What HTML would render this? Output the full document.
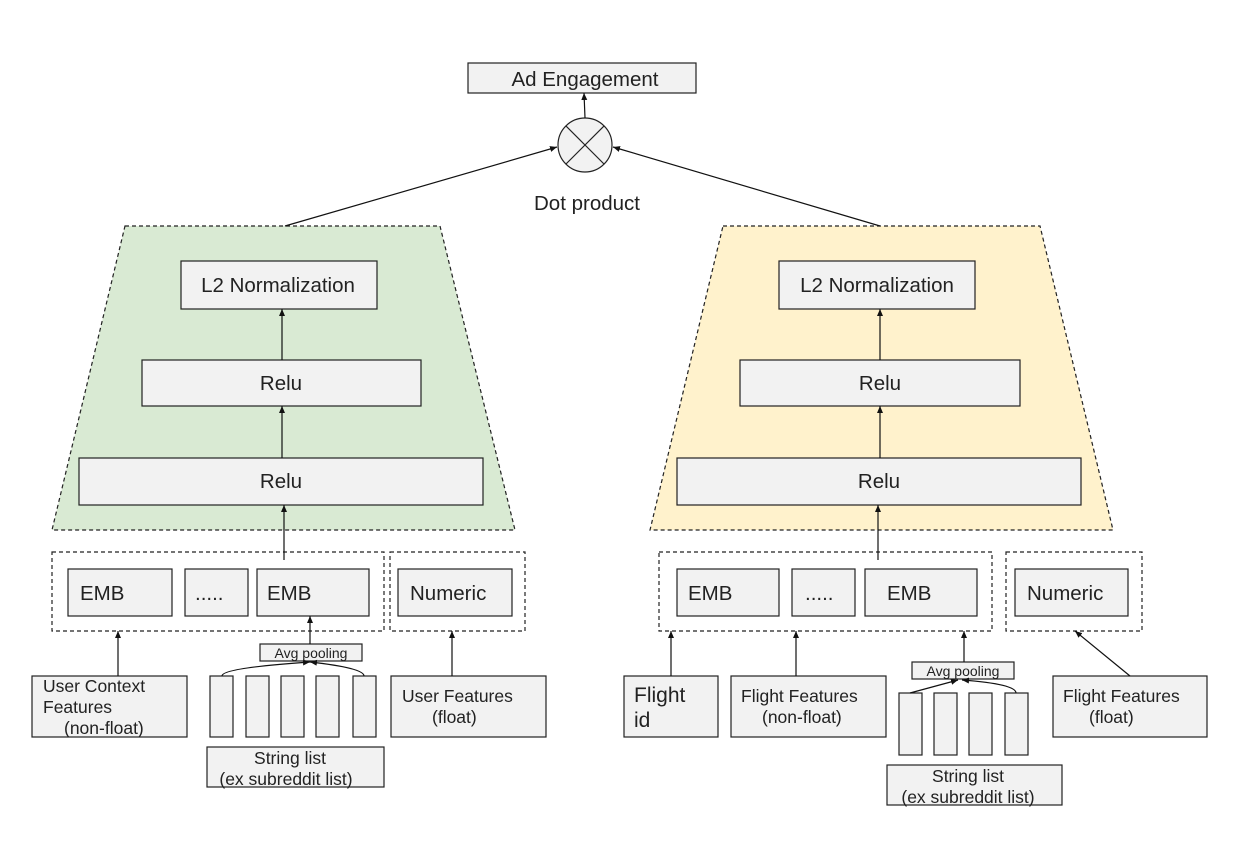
<!DOCTYPE html>
<html><head><style>body{margin:0;background:#fff}svg text{font-family:"Liberation Sans",sans-serif;fill:#222}</style></head>
<body>
<svg width="1238" height="852" viewBox="0 0 1238 852" xmlns="http://www.w3.org/2000/svg">
<defs><marker id="a" markerWidth="8" markerHeight="8" refX="7" refY="4" orient="auto" markerUnits="userSpaceOnUse"><path d="M0,1 L7,4 L0,7 z" fill="#111"/></marker></defs>
<g stroke="#222" stroke-width="1.2" fill="#f2f2f2">
<polygon points="125,226 440,226 515,530 52,530" fill="#d9ead3" stroke-dasharray="4,3"/>
<polygon points="723,226 1040,226 1113,530 650,530" fill="#fff2cc" stroke-dasharray="4,3"/>
<rect x="468" y="63" width="228" height="30"/>
<circle cx="585" cy="145" r="27"/>
<line x1="566" y1="126" x2="604" y2="164"/><line x1="604" y1="126" x2="566" y2="164"/>
<rect x="181" y="261" width="196" height="48"/><rect x="142" y="360" width="279" height="46"/><rect x="79" y="458" width="404" height="47"/>
<rect x="779" y="261" width="196" height="48"/><rect x="740" y="360" width="280" height="46"/><rect x="677" y="458" width="404" height="47"/>
<g fill="none" stroke-dasharray="4,3"><rect x="52" y="552" width="332" height="79"/><rect x="390" y="552" width="135" height="79"/><rect x="659" y="552" width="333" height="79"/><rect x="1006" y="552" width="136" height="79"/></g>
<rect x="68" y="569" width="104" height="47"/><rect x="185" y="569" width="63" height="47"/><rect x="257" y="569" width="112" height="47"/><rect x="398" y="569" width="114" height="47"/>
<rect x="677" y="569" width="102" height="47"/><rect x="792" y="569" width="63" height="47"/><rect x="865" y="569" width="112" height="47"/><rect x="1015" y="569" width="113" height="47"/>
<rect x="260" y="644" width="102" height="17"/><rect x="912" y="662" width="102" height="17"/>
<rect x="32" y="676" width="155" height="61"/><rect x="391" y="676" width="155" height="61"/>
<rect x="210" y="676" width="23" height="61"/><rect x="246" y="676" width="23" height="61"/><rect x="281" y="676" width="23" height="61"/><rect x="316" y="676" width="23" height="61"/><rect x="353" y="676" width="23" height="61"/>
<rect x="207" y="747" width="177" height="40"/>
<rect x="624" y="676" width="94" height="61"/><rect x="731" y="676" width="155" height="61"/><rect x="1053" y="676" width="154" height="61"/>
<rect x="899" y="693" width="23" height="62"/><rect x="934" y="693" width="23" height="62"/><rect x="969" y="693" width="23" height="62"/><rect x="1005" y="693" width="23" height="62"/>
<rect x="887" y="765" width="175" height="40"/>
</g>
<g stroke="#111" stroke-width="1.2" fill="none" marker-end="url(#a)">
<line x1="585" y1="118" x2="584" y2="93"/>
<line x1="285" y1="226" x2="557" y2="147"/><line x1="880" y1="226" x2="613" y2="147"/>
<line x1="282" y1="360" x2="282" y2="309"/><line x1="282" y1="458" x2="282" y2="406"/><line x1="284" y1="560" x2="284" y2="505"/>
<line x1="880" y1="360" x2="880" y2="309"/><line x1="880" y1="458" x2="880" y2="406"/><line x1="878" y1="560" x2="878" y2="505"/>
<line x1="118" y1="676" x2="118" y2="631"/><line x1="452" y1="676" x2="452" y2="631"/><line x1="310" y1="644" x2="310" y2="616"/>
<line x1="671" y1="676" x2="671" y2="631"/><line x1="796" y1="676" x2="796" y2="631"/><line x1="964" y1="662" x2="964" y2="631"/>
<line x1="1130" y1="676" x2="1075" y2="631"/>
<path d="M222,676 Q222,668 310,662"/><path d="M364,676 Q364,668 310,662"/>
<path d="M910,693 L958,680"/><path d="M1016,693 Q1016,684 962,680"/>
</g>
<g font-size="20.5">
<text x="585" y="86" text-anchor="middle">Ad Engagement</text>
<text x="278" y="292" text-anchor="middle">L2 Normalization</text><text x="281" y="390" text-anchor="middle">Relu</text><text x="281" y="488" text-anchor="middle">Relu</text>
<text x="877" y="292" text-anchor="middle">L2 Normalization</text><text x="880" y="390" text-anchor="middle">Relu</text><text x="879" y="488" text-anchor="middle">Relu</text>
<text x="587" y="210" text-anchor="middle">Dot product</text>
<text x="80" y="600">EMB</text><text x="195" y="600">.....</text><text x="267" y="600">EMB</text><text x="410" y="600">Numeric</text>
<text x="688" y="600">EMB</text><text x="805" y="600">.....</text><text x="887" y="600">EMB</text><text x="1027" y="600">Numeric</text>
<text x="634" y="702" font-size="21">Flight</text><text x="634" y="727" font-size="21">id</text>
</g>
<g font-size="17.5">
<text x="43" y="692">User Context</text><text x="43" y="713">Features</text><text x="64" y="734">(non-float)</text>
<text x="402" y="702">User Features</text><text x="432" y="723">(float)</text>
<text x="290" y="764" text-anchor="middle">String list</text><text x="286" y="785" text-anchor="middle">(ex subreddit list)</text>
<text x="741" y="702">Flight Features</text><text x="762" y="723">(non-float)</text>
<text x="1063" y="702">Flight Features</text><text x="1089" y="723">(float)</text>
<text x="968" y="782" text-anchor="middle">String list</text><text x="968" y="803" text-anchor="middle">(ex subreddit list)</text>
</g>
<g font-size="14"><text x="311" y="658" text-anchor="middle">Avg pooling</text><text x="963" y="676" text-anchor="middle">Avg pooling</text></g>
</svg>
</body></html>
